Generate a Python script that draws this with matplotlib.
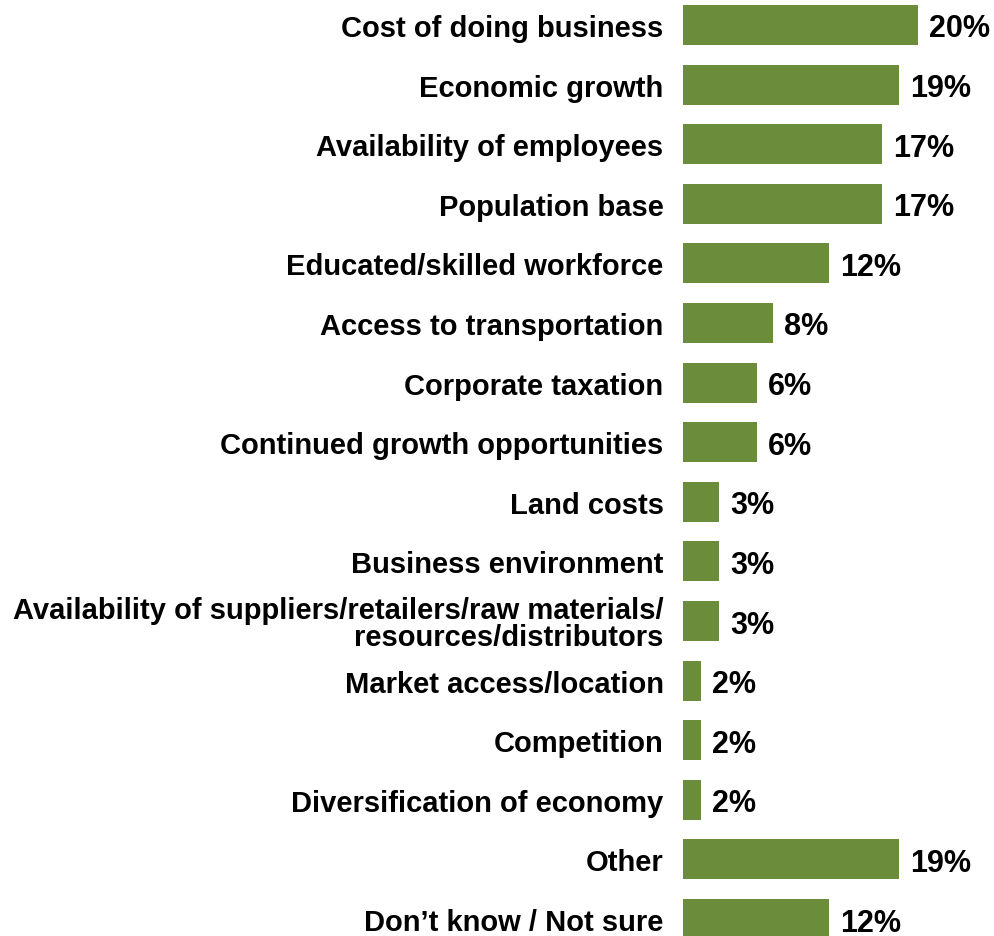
import matplotlib
matplotlib.use('Agg')
import matplotlib.pyplot as plt

## categories, top to bottom
categories = ['Cost of doing business', 'Economic growth', 'Availability of employees',
              'Population base', 'Educated/skilled workforce', 'Access to transportation',
              'Corporate taxation', 'Continued growth opportunities', 'Land costs',
              'Business environment',
              'Availability of suppliers/retailers/raw materials/\nresources/distributors',
              'Market access/location', 'Competition', 'Diversification of economy',
              'Other', 'Don\u2019t know / Not sure']
## bar lengths (percent)
values = [20.1, 18.5, 17.0, 17.0, 12.5, 7.7, 6.3, 6.3, 3.1, 3.1, 3.1, 1.5, 1.5, 1.5, 18.5, 12.5]
## printed labels
value_labels = ['20%', '19%', '17%', '17%', '12%', '8%', '6%', '6%', '3%', '3%', '3%',
                '2%', '2%', '2%', '19%', '12%']

bar_color = '#6a8c3b'

plt.rcParams['font.family'] = ['Liberation Sans', 'DejaVu Sans']
plt.rcParams['font.weight'] = 'bold'

fig = plt.figure(figsize=(9.95, 9.37), dpi=100)
ax = fig.add_axes([683/995, 0, 304/995, 1])

ypos = list(range(len(categories)))
ax.barh(ypos, values, height=0.67, color=bar_color)

for y, v, lab in zip(ypos, values, value_labels):
    ax.annotate(lab, (v, y), xytext=(8, 0), textcoords='offset points',
                ha='left', va='center_baseline', fontsize=22, fontweight='bold')

ax.set_xlim(0, 26)
ax.set_ylim(15.285, -0.436)
ax.set_yticks(ypos)
ax.set_yticklabels(categories, fontsize=21, fontweight='bold', linespacing=0.95)
ax.tick_params(axis='y', length=0, pad=14)
ax.set_xticks([])
for s in ax.spines.values():
    s.set_visible(False)

fig.savefig('out.png', dpi=100)
